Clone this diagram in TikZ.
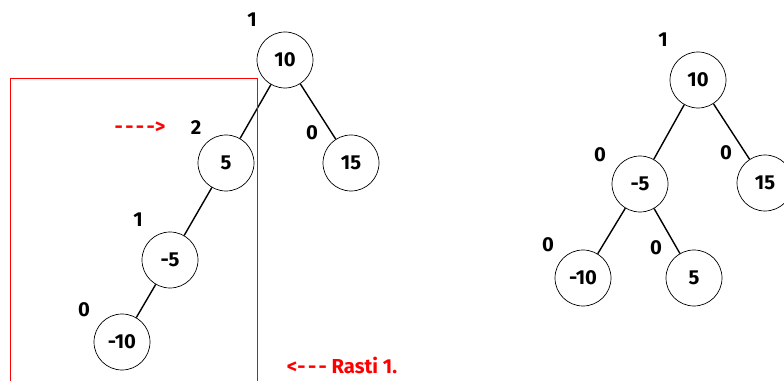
\documentclass[tikz,border=0pt]{standalone}
\usepackage{fontspec}
\setmainfont{Fira Sans}[Ligatures=TeXOff]
\newfontfamily\dashfont{Fira Sans}[Ligatures=TeXOff, LetterSpace=12]
\usetikzlibrary{positioning}

\tikzset{
    key/.style = {circle, draw, thin, minimum size = 1.12cm, inner sep = 0pt,
                  font = \bfseries\fontsize{11.5}{13}\selectfont},
    bal/.style = {font = \bfseries\fontsize{11.5}{13}\selectfont},
    note/.style = {text = red, font = \bfseries\fontsize{11.5}{13}\selectfont},
    edge/.style = {thick}
}

\begin{document}
\begin{tikzpicture}[x = 0.02cm, y = -0.02cm]
            % \draw[style = help lines] (0,0) grid (784,381);
            \useasboundingbox (0,0) rectangle (784,381);

            % tree before the rotation
            \node[key] (a10) at (285,60) {10};
            \node[key] (a5) at (226,163) {5};
            \node[key] (a15) at (351,163) {15};
            \node[key] (am5) at (170,260) {-5};
            \node[key] (am10) at (122,342) {-10};

            \draw[edge] (a10) -- (a5);
            \draw[edge] (a10) -- (a15);
            \draw[edge] (a5) -- (am5);
            \draw[edge] (am5) -- (am10);

            \node[bal] at (252,20) {1};
            \node[bal] at (196,128) {2};
            \node[bal] at (312,133) {0};
            \node[bal] at (138,220) {1};
            \node[bal] at (84,310) {0};

            % the unbalanced part
            \draw[red] (10,381) -- (10,78) -- (257,78) -- (257,381);
            \node[note] at (140,128) {{\dashfont ----}>};
            \node[note] at (342,365) {<{\dashfont ---} Rasti 1.};

            % tree after the rotation
            \node[key] (b10) at (698,80) {10};
            \node[key] (bm5) at (640,184) {-5};
            \node[key] (b15) at (765,183) {15};
            \node[key] (bm10) at (583,278) {-10};
            \node[key] (b5) at (694,278) {5};

            \draw[edge] (b10) -- (bm5);
            \draw[edge] (b10) -- (b15);
            \draw[edge] (bm5) -- (bm10);
            \draw[edge] (bm5) -- (b5);

            \node[bal] at (663,40) {1};
            \node[bal] at (600,155) {0};
            \node[bal] at (726,153) {0};
            \node[bal] at (548,245) {0};
            \node[bal] at (656,248) {0};
        \end{tikzpicture}
\end{document}
